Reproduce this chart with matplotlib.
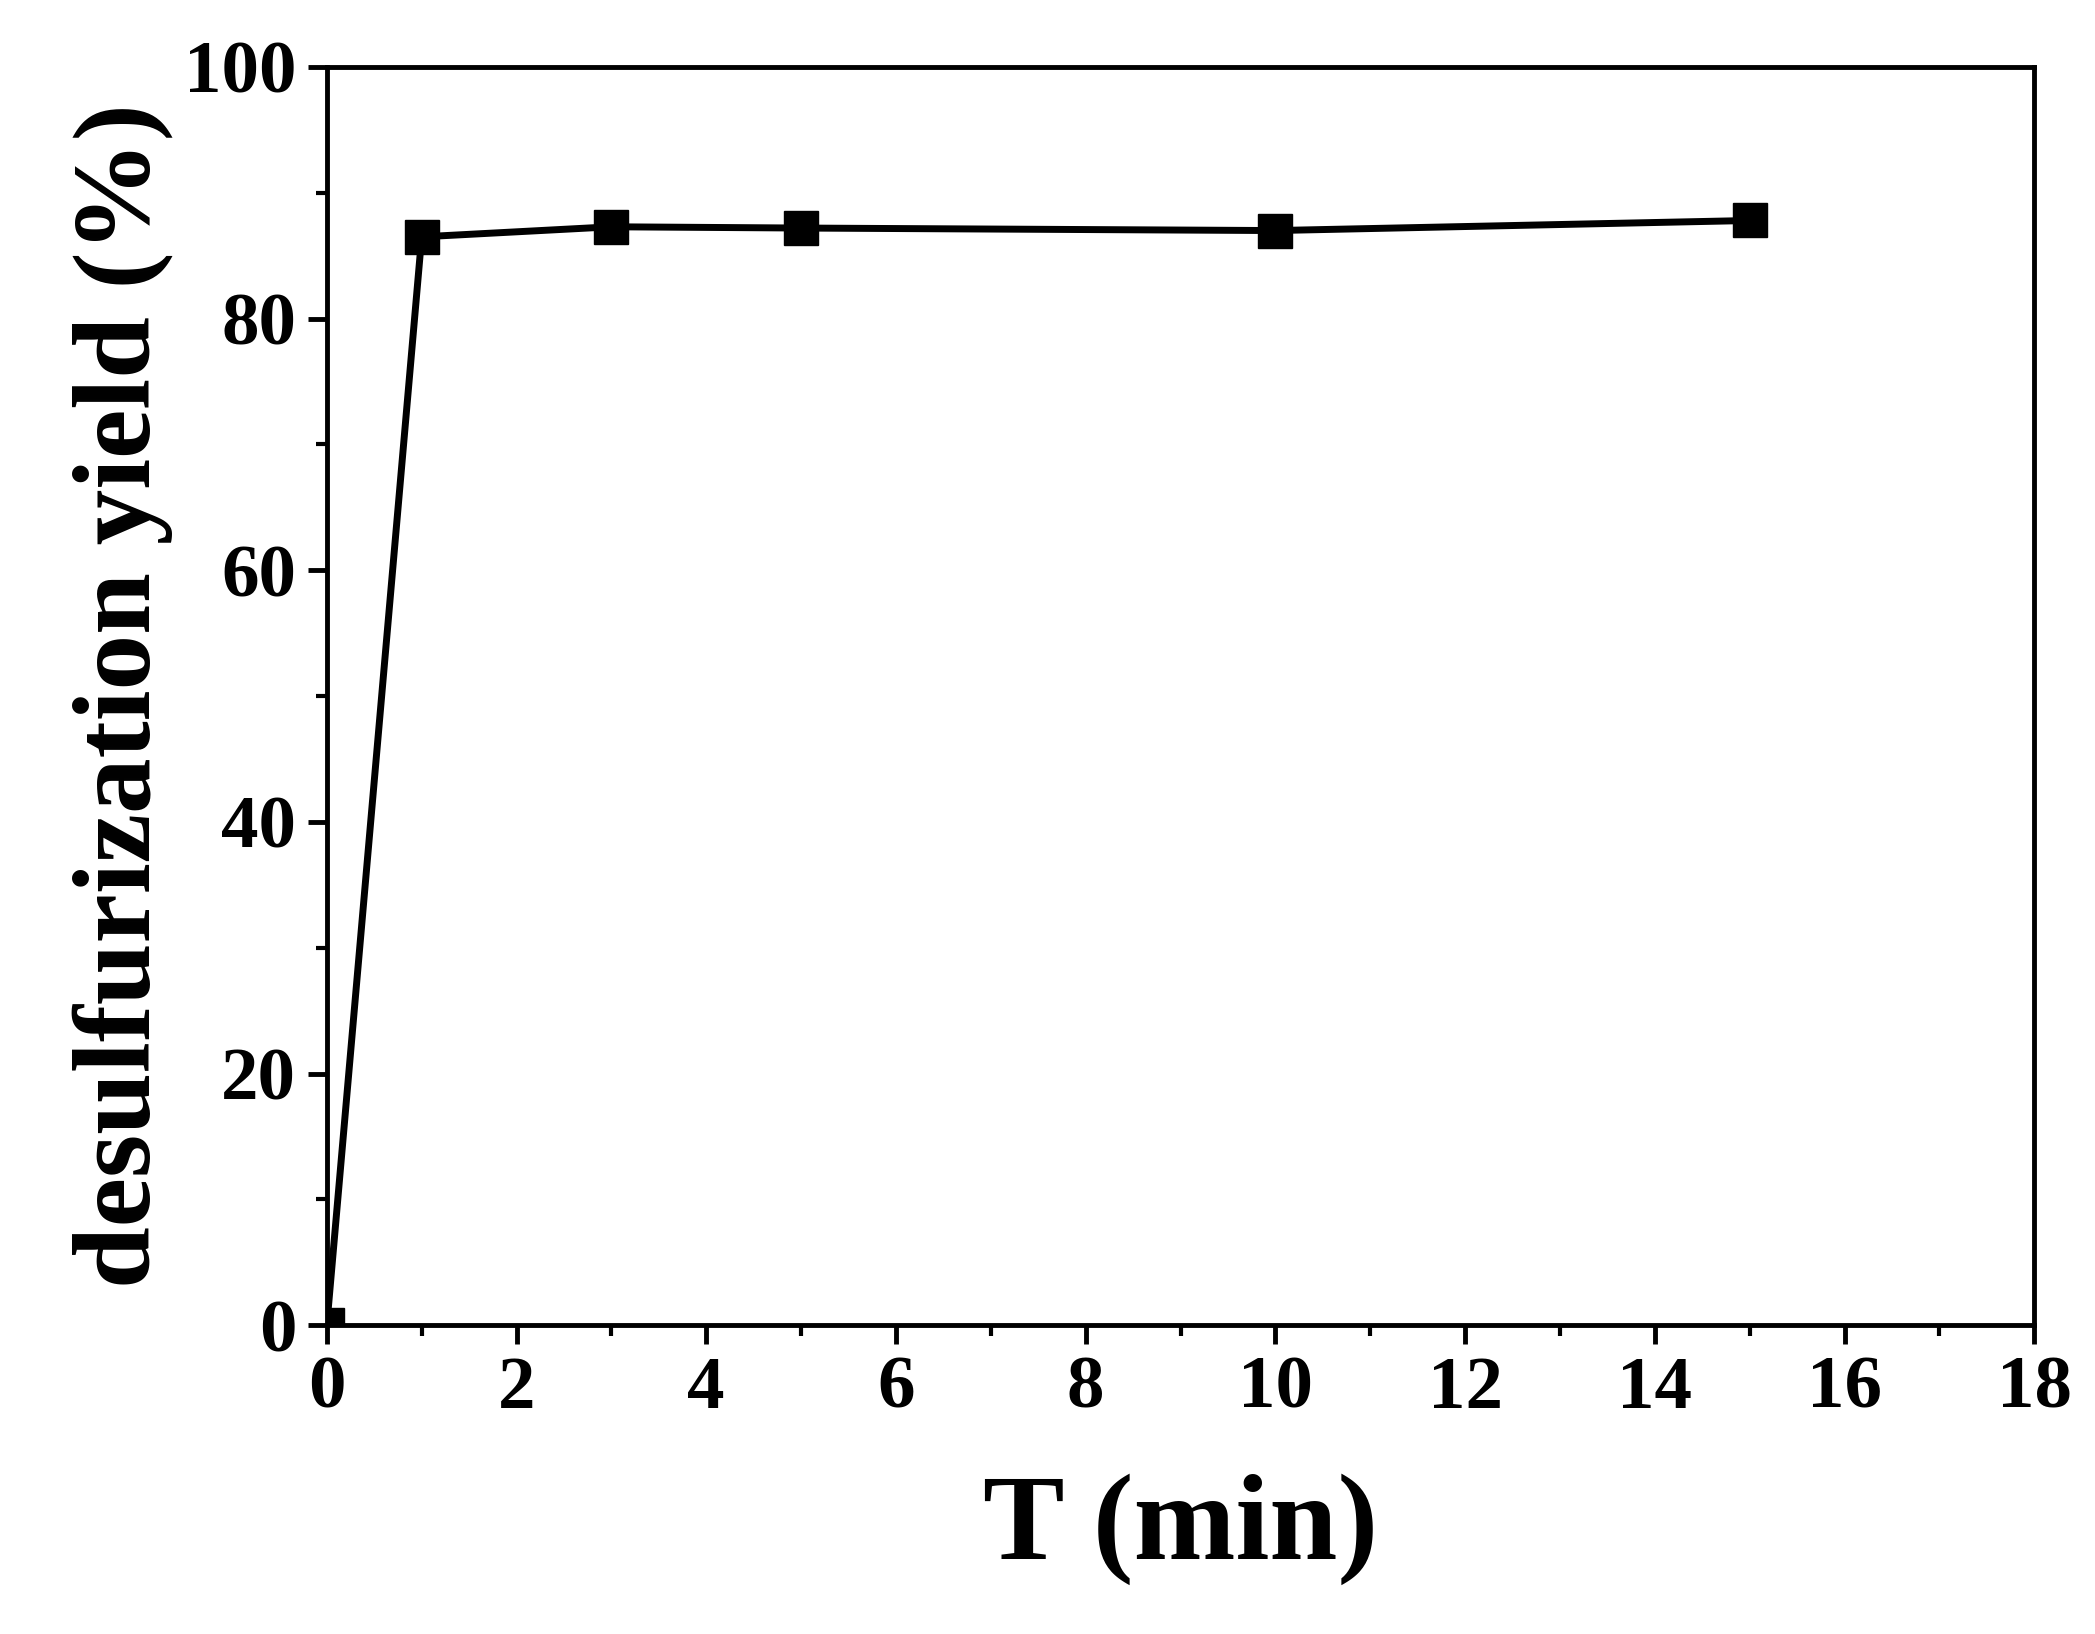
import matplotlib
matplotlib.use("Agg")
import matplotlib.pyplot as plt
from matplotlib.ticker import MultipleLocator

t = [0, 1, 3, 5, 10, 15]
yield_pct = [0, 86.5, 87.3, 87.2, 87.0, 87.8]

plt.rcParams['font.family'] = ['Liberation Serif', 'DejaVu Serif']
plt.rcParams['font.weight'] = 'bold'

fig = plt.figure(figsize=(20.95, 16.34), dpi=100)
ax = fig.add_axes([0.156, 0.189, 0.815, 0.770])
ax.plot(t, yield_pct, color='black', lw=5, marker='s', ms=25, mfc='black', mec='black')
ax.set_xlim(0, 18)
ax.set_ylim(0, 100)
ax.xaxis.set_major_locator(MultipleLocator(2))
ax.xaxis.set_minor_locator(MultipleLocator(1))
ax.yaxis.set_major_locator(MultipleLocator(20))
ax.yaxis.set_minor_locator(MultipleLocator(10))
for s in ax.spines.values():
    s.set_linewidth(3.5)
ax.tick_params(which='major', length=14, width=3.5, labelsize=54, pad=8)
ax.tick_params(which='minor', length=8, width=3)
for lab in ax.get_xticklabels() + ax.get_yticklabels():
    lab.set_fontweight('bold')
ax.set_xlabel('T (min)', fontsize=88, fontweight='bold', labelpad=36)
ax.set_ylabel('desulfurization yield (%)', fontsize=80, fontweight='bold', labelpad=8)
fig.savefig('out.png', dpi=100)
